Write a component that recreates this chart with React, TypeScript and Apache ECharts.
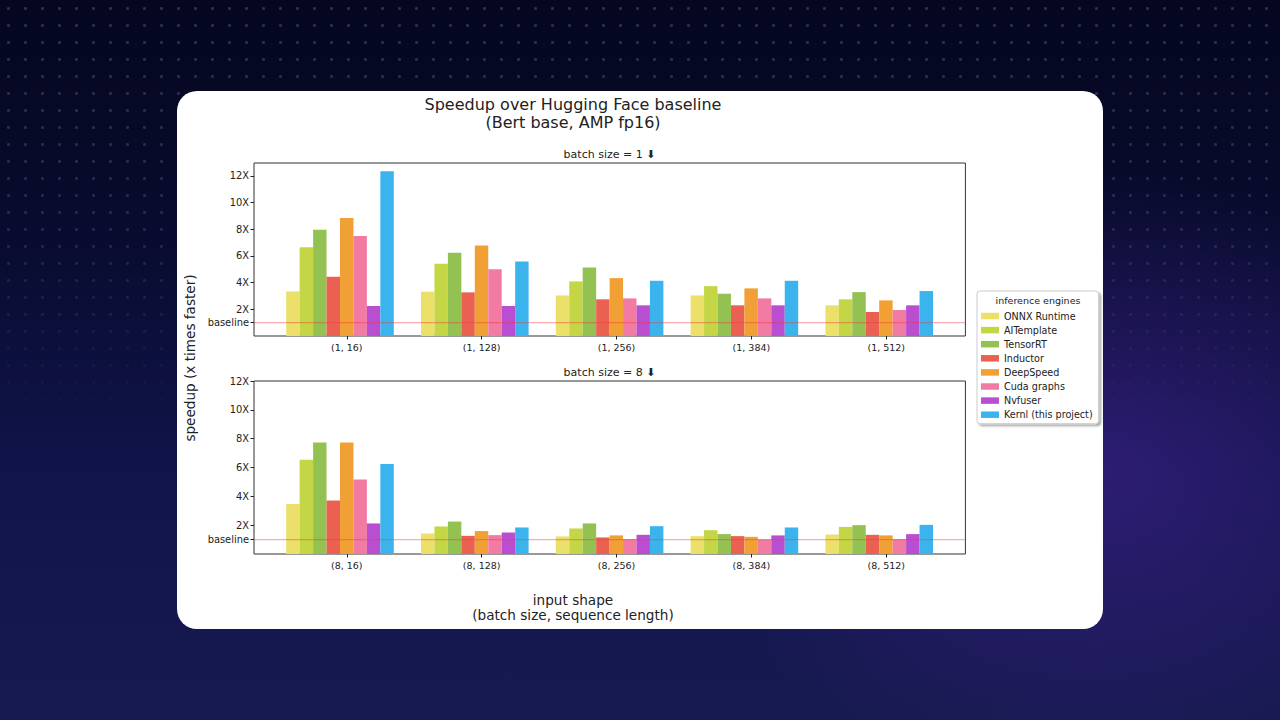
import React, { useEffect, useRef } from "react";
import * as echarts from "echarts";

// ---------- data ----------
const engines = [
  "ONNX Runtime",
  "AITemplate",
  "TensorRT",
  "Inductor",
  "DeepSpeed",
  "Cuda graphs",
  "Nvfuser",
  "Kernl (this project)",
];
const engineColors = ["#EBE06A", "#C4D645", "#93C152", "#EA6152", "#F0A035", "#F27BA3", "#B94FD0", "#3BB4EE"];

const shapesBatch1 = ["(1, 16)", "(1, 128)", "(1, 256)", "(1, 384)", "(1, 512)"];
const shapesBatch8 = ["(8, 16)", "(8, 128)", "(8, 256)", "(8, 384)", "(8, 512)"];

// batch size = 1 (speedup, x times)
const onnxB1 = [3.34, 3.32, 3.04, 3.04, 2.3];
const aitB1 = [6.65, 5.41, 4.09, 3.74, 2.75];
const trtB1 = [7.97, 6.25, 5.13, 3.17, 3.29];
const inductorB1 = [4.44, 3.27, 2.75, 2.3, 1.8];
const deepspeedB1 = [8.84, 6.78, 4.34, 3.57, 2.67];
const cudaB1 = [7.5, 5.01, 2.82, 2.82, 1.95];
const nvfuserB1 = [2.25, 2.25, 2.3, 2.3, 2.3];
const kernlB1 = [12.35, 5.58, 4.14, 4.14, 3.37];

// batch size = 8
const onnxB8 = [3.47, 1.42, 1.22, 1.24, 1.35];
const aitB8 = [6.54, 1.91, 1.77, 1.65, 1.88];
const trtB8 = [7.74, 2.25, 2.12, 1.38, 2.0];
const inductorB8 = [3.71, 1.26, 1.15, 1.24, 1.33];
const deepspeedB8 = [7.74, 1.59, 1.29, 1.19, 1.29];
const cudaB8 = [5.16, 1.31, 1.03, 1.01, 1.03];
const nvfuserB8 = [2.12, 1.49, 1.33, 1.29, 1.38];
const kernlB8 = [6.24, 1.84, 1.93, 1.84, 2.02];

const yTickValues = [1, 2, 4, 6, 8, 10, 12];
const baselineValue = 1;
const catTickValues = [0, 1, 2, 3, 4];

const FONT = "DejaVu Sans";
const TXT = "#222";

export default function App() {
  const ref = useRef<HTMLDivElement>(null);

  useEffect(() => {
    if (!ref.current) return;
    const chart = echarts.init(ref.current, undefined, { renderer: "svg" });

    const b1 = [onnxB1, aitB1, trtB1, inductorB1, deepspeedB1, cudaB1, nvfuserB1, kernlB1];
    const b8 = [onnxB8, aitB8, trtB8, inductorB8, deepspeedB8, cudaB8, nvfuserB8, kernlB8];

    const XMIN = -0.688;
    const XMAX = 4.587;
    const frameLeft = 254;
    const frameWidth = 711.4;
    const barsLeft = 272.6;
    const barsWidth = 674;
    const barW = 13.45;
    const panels = [
      { top: 163, height: 173, yMax: 12.97, cats: shapesBatch1, data: b1 },
      { top: 381, height: 173, yMax: 12, cats: shapesBatch8, data: b8 },
    ];

    const grid: any[] = [];
    const xAxis: any[] = [];
    const yAxis: any[] = [];
    const series: any[] = [];

    panels.forEach((p, pi) => {
      const gFrame = pi * 2;
      const gBars = pi * 2 + 1;
      grid.push({
        left: frameLeft,
        top: p.top,
        width: frameWidth,
        height: p.height,
        show: true,
        borderColor: "#333",
        borderWidth: 1,
        backgroundColor: "transparent",
        containLabel: false,
      });
      grid.push({ left: barsLeft, top: p.top, width: barsWidth, height: p.height, containLabel: false });

      xAxis.push({
        gridIndex: gFrame,
        type: "value",
        position: "bottom",
        min: XMIN,
        max: XMAX,
        splitLine: { show: false },
        axisLine: { show: false, onZero: false },
        axisTick: { show: true, customValues: catTickValues, length: 3.5, lineStyle: { color: TXT, width: 1 } },
        axisLabel: {
          show: true,
          customValues: catTickValues,
          formatter: (v: number) => p.cats[Math.round(v)] ?? "",
          fontFamily: FONT,
          fontSize: 9.5,
          color: TXT,
          margin: 6,
        },
      });
      xAxis.push({ gridIndex: gBars, type: "category", data: p.cats, show: false, boundaryGap: true });

      yAxis.push({
        gridIndex: gFrame,
        type: "value",
        position: "left",
        min: 0,
        max: p.yMax,
        splitLine: { show: false },
        axisLine: { show: false, onZero: false },
        axisTick: { show: true, customValues: yTickValues, length: 3.5, lineStyle: { color: TXT, width: 1 } },
        axisLabel: {
          show: true,
          customValues: yTickValues,
          formatter: (v: number) => (v === baselineValue ? "baseline" : `${v}X`),
          fontFamily: FONT,
          fontSize: 9.9,
          color: TXT,
          margin: 5,
        },
      });
      yAxis.push({ gridIndex: gBars, type: "value", min: 0, max: p.yMax, show: false });

      engines.forEach((name, ei) => {
        series.push({
          name,
          type: "bar",
          xAxisIndex: gBars,
          yAxisIndex: gBars,
          data: p.data[ei],
          barWidth: barW,
          barGap: "0%",
          itemStyle: { color: engineColors[ei] },
          z: 2,
        });
      });

      series.push({
        type: "line",
        xAxisIndex: gFrame,
        yAxisIndex: gFrame,
        data: [
          [XMIN, baselineValue],
          [XMAX, baselineValue],
        ],
        symbol: "none",
        silent: true,
        lineStyle: { color: "rgba(236,60,60,0.42)", width: 1.2 },
        z: 6,
      });
    });

    const text = (t: string, x: number, y: number, size: number, extra: any = {}) => ({
      type: "text",
      x,
      y,
      z: 50,
      ...extra,
      style: {
        text: t,
        fill: TXT,
        font: `${size}px "${FONT}"`,
        align: "center",
        verticalAlign: "middle",
      },
    });

    chart.setOption({
      animation: false,
      backgroundColor: "transparent",
      grid,
      xAxis,
      yAxis,
      series,
      legend: {
        data: engines,
        orient: "vertical",
        left: 977,
        top: 291,
        padding: [19, 6, 3, 4],
        itemWidth: 18,
        itemHeight: 6.5,
        itemGap: 2.1,
        selectedMode: false,
        icon: "rect",
        backgroundColor: "#fff",
        borderColor: "#cccccc",
        borderWidth: 1,
        borderRadius: 3,
        shadowBlur: 2,
        shadowOffsetX: 2,
        shadowOffsetY: 2,
        shadowColor: "rgba(0,0,0,0.35)",
        textStyle: { fontFamily: FONT, fontSize: 9.6, color: TXT, lineHeight: 12 },
        z: 10,
      },
      graphic: [
        {
          type: "rect",
          z: -10,
          shape: { x: 177, y: 91, width: 926, height: 538, r: 20 },
          style: { fill: "#ffffff" },
          silent: true,
        },
        text("Speedup over Hugging Face baseline", 573, 104, 16),
        text("(Bert base, AMP fp16)", 573, 122, 16),
        text("batch size = 1 \u2B07", 609.5, 154, 11),
        text("batch size = 8 \u2B07", 609.5, 372, 11),
        text("input shape", 573, 600, 13.6),
        text("(batch size, sequence length)", 573, 615, 13.6),
        text("speedup (x times faster)", 190, 358, 13.6, { rotation: Math.PI / 2 }),
        text("inference engines", 1038, 300, 9.5),
      ],
    });

    return () => chart.dispose();
  }, []);

  return (
    <div
      style={{
        position: "fixed",
        left: 0,
        top: 0,
        width: 1280,
        height: 720,
        overflow: "hidden",
        background:
          "radial-gradient(ellipse 420px 300px at 1090px 470px, rgba(70,36,150,0.55), rgba(70,36,150,0) 100%), linear-gradient(180deg, #05071f 0%, #080b2c 30%, #10144a 65%, #171a50 100%)",
      }}
    >
      <div
        style={{
          position: "absolute",
          left: 0,
          top: 0,
          width: 1280,
          height: 720,
          backgroundImage: "radial-gradient(circle, rgba(110,120,195,0.35) 1.2px, rgba(0,0,0,0) 1.9px)",
          backgroundSize: "17px 17px",
          WebkitMaskImage: "linear-gradient(180deg, #000 0%, rgba(0,0,0,0.8) 30%, rgba(0,0,0,0) 60%)",
          maskImage: "linear-gradient(180deg, #000 0%, rgba(0,0,0,0.8) 30%, rgba(0,0,0,0) 60%)",
        }}
      />
      <div ref={ref} style={{ position: "absolute", left: 0, top: 0, width: 1280, height: 720 }} />
    </div>
  );
}
